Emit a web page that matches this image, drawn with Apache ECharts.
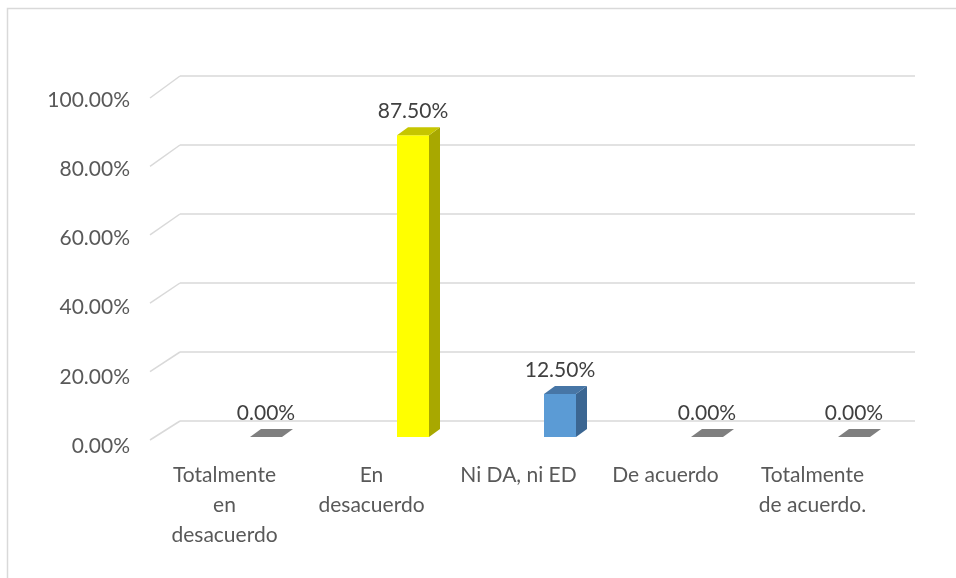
<!DOCTYPE html>
<html>
<head>
<meta charset="utf-8">
<script src="https://cdn.jsdelivr.net/npm/echarts@6/dist/echarts.min.js"></script>
<style>
html,body{margin:0;padding:0;background:#fff;}
#chart{width:956px;height:578px;}
</style>
</head>
<body>
<div id="chart"></div>
<script>
// ---- data ----
const categories = ['Totalmente\nen\ndesacuerdo', 'En\ndesacuerdo', 'Ni DA, ni ED', 'De acuerdo', 'Totalmente\nde acuerdo.'];
const values = [0, 87.5, 12.5, 0, 0];
const yTicks = [0, 20, 40, 60, 80, 100];

// ---- styles ----
const frontColors = ['#A5A5A5', '#FFFF00', '#5B9BD5', '#A5A5A5', '#A5A5A5'];
const sideColors  = ['#6E6E6E', '#A8A800', '#3B6692', '#6E6E6E', '#6E6E6E'];
const topColors   = ['#7F7F7F', '#C6C600', '#4776A6', '#7F7F7F', '#7F7F7F'];
const FONT = 'Lato, "Open Sans", sans-serif';

const chart = echarts.init(document.getElementById('chart'), null, {renderer: 'canvas'});

const barData = values.map((v, i) => [i, v]);
const tickData = yTicks.map(t => [0, t]);

const DEPTH_X = 11, DEPTH_Y = -8, BAR_W = 32, SHIFT_X = 12.5, SHIFT_Y = 16;
const WALL_DX = -30, WALL_DY_MIN = 19, WALL_DY_MAX = 22;

const option = {
  animation: false,
  backgroundColor: '#fff',
  graphic: [{
    type: 'rect',
    shape: {x: 7.5, y: 8.5, width: 1200, height: 1200},
    style: {fill: 'none', stroke: '#d9d9d9', lineWidth: 1.5},
    silent: true, z: 0
  }],
  grid: [
    {left: 180, right: 41, top: 76, bottom: 157},
    {left: 151, right: 70, top: 100, bottom: 132}
  ],
  xAxis: [
    {type: 'category', gridIndex: 0, data: categories,
     axisLine: {show: false}, axisTick: {show: false}, axisLabel: {show: false}, splitLine: {show: false}},
    {type: 'category', gridIndex: 1, data: categories,
     axisLine: {show: false}, axisTick: {show: false}, splitLine: {show: false},
     axisLabel: {interval: 0, margin: 14, color: '#595959', fontFamily: FONT, fontSize: 21, lineHeight: 30}}
  ],
  yAxis: [
    {type: 'value', gridIndex: 0, min: 0, max: 100, interval: 20,
     axisLine: {show: false}, axisTick: {show: false}, axisLabel: {show: false},
     splitLine: {show: true, lineStyle: {color: '#d9d9d9', width: 1.5}}},
    {type: 'value', gridIndex: 1, min: 0, max: 100, interval: 20,
     axisLine: {show: false}, axisTick: {show: false}, splitLine: {show: false},
     axisLabel: {margin: 21, color: '#595959', fontFamily: FONT, fontSize: 21,
                 formatter: v => v.toFixed(2) + '%'}}
  ],
  series: [
    {
      type: 'custom', xAxisIndex: 0, yAxisIndex: 0, data: tickData, z: 1, silent: true,
      renderItem: function (params, api) {
        const v = api.value(1);
        const p = api.coord([0, v]);
        const band = api.size([1, 0])[0];
        const x0 = p[0] - band / 2;
        const dy = WALL_DY_MIN + (WALL_DY_MAX - WALL_DY_MIN) * v / 100;
        return {
          type: 'line',
          shape: {x1: x0 + WALL_DX, y1: p[1] + dy, x2: x0, y2: p[1]},
          style: {stroke: '#d9d9d9', lineWidth: 1.5}
        };
      }
    },
    {
      type: 'custom', xAxisIndex: 0, yAxisIndex: 0, data: barData, z: 5, silent: true,
      renderItem: function (params, api) {
        const i = api.value(0), v = api.value(1);
        const base = api.coord([i, 0]);
        const top = api.coord([i, v]);
        const cx = base[0] + SHIFT_X;
        const x0 = cx - BAR_W / 2, x1 = cx + BAR_W / 2;
        const yb = base[1] + SHIFT_Y, yt = top[1] + SHIFT_Y;
        const children = [];
        if (yb - yt > 0.5) {
          children.push({type: 'rect', shape: {x: x0, y: yt, width: BAR_W, height: yb - yt},
                         style: {fill: frontColors[i]}});
          children.push({type: 'polygon', shape: {points: [[x1, yt], [x1 + DEPTH_X, yt + DEPTH_Y], [x1 + DEPTH_X, yb + DEPTH_Y], [x1, yb]]},
                         style: {fill: sideColors[i]}});
        }
        children.push({type: 'polygon', shape: {points: [[x0, yt], [x0 + DEPTH_X, yt + DEPTH_Y], [x1 + DEPTH_X, yt + DEPTH_Y], [x1, yt]]},
                       style: {fill: topColors[i]}});
        children.push({type: 'text', x: cx, y: yt + DEPTH_Y - 16,
                       style: {text: v.toFixed(2) + '%', fill: '#404040', font: '21px ' + FONT,
                               align: 'center', verticalAlign: 'middle'}});
        return {type: 'group', children: children};
      }
    }
  ]
};
chart.setOption(option);
</script>
</body>
</html>
